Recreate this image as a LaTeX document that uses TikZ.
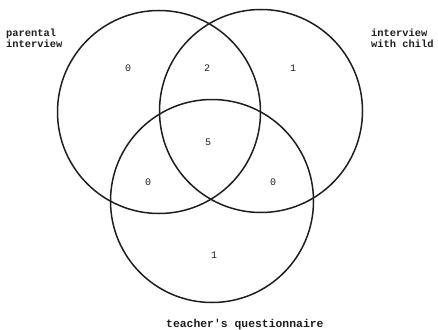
\documentclass[tikz,border=0pt]{standalone}
\usepackage{fontspec}
\setmonofont{Liberation Mono}
\definecolor{ink}{HTML}{1E1E1E}

\begin{document}
\begin{tikzpicture}[x=1pt,y=-1pt,set/.style={circle,draw=ink,line width=1.5pt,minimum size=203pt,inner sep=0pt},count/.style={font=\ttfamily\fontsize{10}{12}\selectfont,text=ink,inner sep=0pt},label/.style={font=\ttfamily\bfseries\fontsize{10.4}{11}\selectfont,text=ink,align=left,inner sep=0pt}]
 \useasboundingbox (0,0) rectangle (438,329);
 \node[set] (parent) at (159,112) {};
 \node[set] (child) at (261,111) {};
 \node[set] (teacher) at (212,201) {};
 \node[label,anchor=north west] (parentlbl) at (6,29) {parental\\interview};
 \node[label,anchor=north west] (childlbl) at (371,29) {interview\\with child};
 \node[label,anchor=base west,font=\ttfamily\bfseries\fontsize{11.4}{12}\selectfont] (teacherlbl) at (166,327) {teacher's questionnaire};
 \node[count] (onlyparent) at (128,68) {0};
 \node[count] (parentchild) at (207,68) {2};
 \node[count] (onlychild) at (293,68) {1};
 \node[count] (all) at (208,142) {5};
 \node[count] (parentteacher) at (148,182) {0};
 \node[count] (childteacher) at (273,182) {0};
 \node[count] (onlyteacher) at (214,255) {1};
\end{tikzpicture}
\end{document}
